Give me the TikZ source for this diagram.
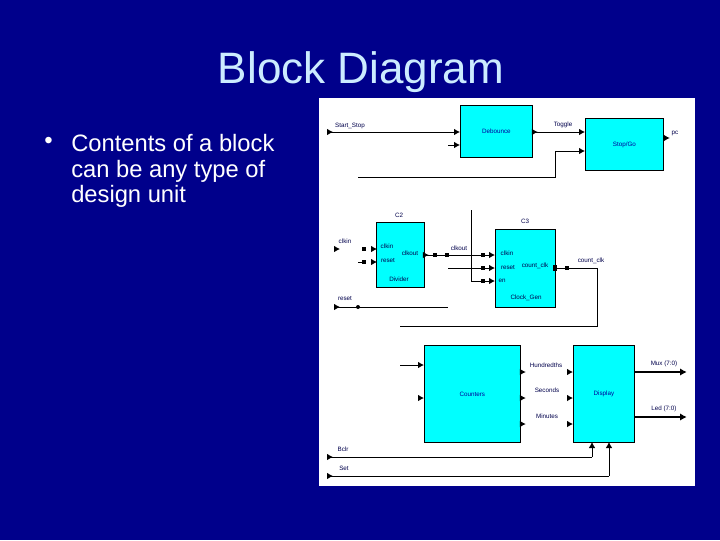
\documentclass[tikz,border=0pt]{standalone}
\usepackage{fontspec}
\setmainfont{Liberation Sans}
\usetikzlibrary{arrows.meta}
\definecolor{slidebg}{RGB}{0,0,139}
\definecolor{titlecol}{RGB}{204,236,255}
\definecolor{blockcol}{RGB}{0,255,255}
\tikzset{
  wire/.style={line width=0.75pt, black},
  arr/.style={wire, -{Latex[length=4.5pt,width=5pt]}},
  bus/.style={line width=1.4pt, black, -{Latex[length=5pt,width=5.5pt]}},
  tip/.style={wire, -{Latex[length=4.5pt,width=5pt]}},
  block/.style={draw=black, line width=0.6pt, fill=blockcol, anchor=north west, inner sep=0pt,
    font=\fontsize{4.7pt}{5pt}\selectfont, text=blue!60!black},
  sig/.style={font=\fontsize{4.7pt}{5pt}\selectfont, text=black!70!blue, inner sep=0pt},
  dotn/.style={fill=black, inner sep=0pt, minimum size=3pt},
}
\newcommand{\blk}[6]{\node[block, minimum width=#4*0.75pt, minimum height=#5*0.75pt] (#1) at (#2,#3) {#6};}
\newcommand{\sgl}[4]{\node[sig] (#1) at (#2,#3) {#4};}
\begin{document}
\begin{tikzpicture}[x=0.75pt, y=-0.75pt]
\useasboundingbox (0,0) rectangle (720,540);
\fill[slidebg] (0,0) rectangle (720,540);
\node[text=titlecol, font=\fontsize{33pt}{36pt}\selectfont] (title) at (361,72) {Block Diagram};
\node[text=white, font=\fontsize{17.8pt}{19.2pt}\selectfont, anchor=north west, inner sep=0pt, align=left] (bodytext) at (71,134) {Contents of a block\\can be any type of\\design unit};
\node[anchor=west, text=white, font=\fontsize{18pt}{18pt}\selectfont, inner sep=0pt] (bullet) at (44,143) {•};
\fill[white] (319,98) rectangle (695,486);

% top row
\blk{debounce}{460}{105}{72}{52}{Debounce}
\blk{stopgo}{585}{118}{78}{52}{Stop/Go}
\sgl{lstart}{350}{125.5}{Start\_Stop}
\sgl{ltoggle}{563}{125}{Toggle}
\sgl{lpc}{675}{133}{pc}
\coordinate (startin) at (328,132);
\coordinate (debin) at (448,145);
\coordinate (goin) at (358,177);
\draw[arr] (startin) -- (debounce.west |- startin);
\draw[tip] (startin) -- ++(5,0);
\draw[arr] (debin) -- (debounce.west |- debin);
\draw[arr] (debounce.east |- startin) -- (stopgo.west |- startin);
\draw[tip] (debounce.east |- startin) -- ++(5,0);
\draw[arr] (goin) -- (555,177) -- (555,151) -- (stopgo.west |- 0,151);
\draw[tip] (stopgo.east |- 0,138) -- ++(6,0);

% middle row
\blk{divider}{376}{222}{48}{65}{}
\blk{clockgen}{495}{229}{60}{78}{}
\sgl{lc2}{399}{215}{C2}
\sgl{lc3}{525}{221}{C3}
\sgl{lclkin}{345}{241}{clkin}
\sgl{lsclkin}{387}{246}{clkin}
\sgl{lsreset}{388}{260}{reset}
\sgl{lsclkout}{410}{253}{clkout}
\sgl{lsdiv}{399}{279}{Divider}
\sgl{lclkout}{459}{248}{clkout}
\sgl{lgclkin}{507}{253}{clkin}
\sgl{lgreset}{508}{267}{reset}
\sgl{lgen}{502}{281}{en}
\sgl{lcount}{535}{266}{count\_clk}
\sgl{lgen2}{526}{298}{Clock\_Gen}
\sgl{lcountclk}{591}{261}{count\_clk}
\sgl{lreset2}{345}{298}{reset}
\node[dotn] (d1) at (364,249) {};
\node[dotn] (d2) at (364,262) {};
\draw[tip] (335,249) -- ++(5,0);
\draw[tip] (374,249) -- ++(3,0);
\draw[tip] (371,262) -- ++(6,0);
\draw[wire] (358,262) -- (d2);
\coordinate (rstin) at (335,307);
\coordinate (rstend) at (448,307);
\draw[tip] (rstin) -- ++(5,0);
\draw[wire] (rstin) -- (rstend);
\node[dotn, circle] (d3) at (358,307) {};
\node[dotn] (d4) at (435,255) {};
\node[dotn] (d5) at (447,255) {};
\node[dotn] (d6) at (483,255) {};
\node[dotn] (d7) at (483,268) {};
\node[dotn] (d8) at (483,281) {};
\node[dotn] (d9) at (567,268) {};
\node[dotn, minimum height=4pt] (d10) at (555,268) {};
\draw[arr] (divider.east |- d4) -- (clockgen.west |- d4);
\draw[tip] (divider.east |- d4) -- ++(4,0);
\coordinate (rstjoin) at (448,268);
\draw[arr] (rstjoin) -- (clockgen.west |- rstjoin);
\coordinate (entop) at (471,210);
\draw[arr] (entop) -- (471,281) -- (clockgen.west |- d8);
\coordinate (clkback) at (400,326);
\draw[wire] (d10) -- (597,268) -- (597,326) -- (clkback);

% bottom row
\blk{counters}{424}{345}{96}{97}{Counters}
\blk{display}{573}{345}{61}{97}{Display}
\sgl{lhund}{546}{365}{Hundredths}
\sgl{lsec}{547}{390}{Seconds}
\sgl{lmin}{547}{416}{Minutes}
\sgl{lmux}{664}{364}{Mux (7:0)}
\sgl{lled}{664}{409}{Led (7:0)}
\sgl{lb}{343}{449}{Bclr}
\sgl{ls}{344}{468}{Set}
\coordinate (cntin) at (400,365);
\draw[arr] (cntin) -- (counters.west |- cntin);
\draw[tip] (419,398) -- (424,398);
\foreach \y in {372,398,424} {
  \draw[tip] (counters.east |- 0,\y) -- ++(5,0);
  \draw[tip] (568,\y) -- (display.west |- 0,\y);
}
\draw[bus] (display.east |- 0,372) -- ++(52,0);
\draw[bus] (display.east |- 0,417) -- ++(52,0);
\coordinate (bin) at (328,457);
\coordinate (sin) at (328,476);
\draw[wire] (bin) -- (592,457);
\draw[arr] (592,457) -- (592,442);
\draw[tip] (bin) -- ++(5,0);
\draw[wire] (sin) -- (609,476);
\draw[arr] (609,476) -- (609,442);
\draw[tip] (sin) -- ++(5,0);
\end{tikzpicture}
\end{document}
